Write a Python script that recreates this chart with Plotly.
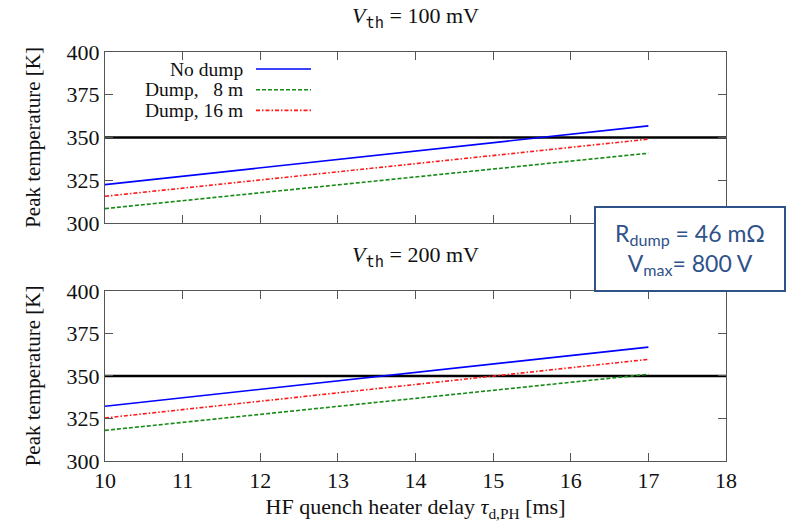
import plotly.graph_objects as go
from plotly.subplots import make_subplots

# ---- data ----
delay_ms = [10, 17]
names = ["No dump", "Dump,   8 m", "Dump, 16 m"]
peak_100mV = {
    "No dump": [322.4, 356.8],
    "Dump,   8 m": [308.4, 340.8],
    "Dump, 16 m": [315.6, 349.0],
}
peak_200mV = {
    "No dump": [332.2, 367.0],
    "Dump,   8 m": [318.0, 351.0],
    "Dump, 16 m": [325.3, 359.8],
}
limit_K = 350
x_range = [10, 18]
y_range = [300, 400]
x_ticks = [10, 11, 12, 13, 14, 15, 16, 17, 18]
y_ticks = [300, 325, 350, 375, 400]

colors = {"No dump": "#0000ff", "Dump,   8 m": "#168a16", "Dump, 16 m": "#ff1a1a"}
dashes = {"No dump": "solid", "Dump,   8 m": "4px,2px", "Dump, 16 m": "4px,2px,1.5px,2px"}

SERIF = "Liberation Serif, Times New Roman, serif"
MONO = "DejaVu Sans Mono, monospace"
FS = 22

fig = make_subplots(rows=2, cols=1, vertical_spacing=0.166)

for row, data in [(1, peak_100mV), (2, peak_200mV)]:
    fig.add_trace(go.Scatter(x=x_range, y=[limit_K, limit_K], mode="lines",
                             line=dict(color="black", width=2.6), showlegend=False,
                             hoverinfo="skip"), row=row, col=1)
    for n in names:
        fig.add_trace(go.Scatter(x=delay_ms, y=data[n], mode="lines", name=n,
                                 line=dict(color=colors[n], dash=dashes[n], width=1.6),
                                 showlegend=False), row=row, col=1)

axis_common = dict(showline=True, linecolor="#555555", linewidth=1, mirror="allticks",
                   ticks="inside", ticklen=8, tickcolor="#555555", showgrid=False,
                   zeroline=False, automargin=False,
                   tickfont=dict(family=SERIF, size=FS, color="#111"))
for row in (1, 2):
    fig.update_xaxes(range=x_range, tickvals=x_ticks, showticklabels=(row == 2),
                     row=row, col=1, **axis_common)
    fig.update_yaxes(range=y_range, tickvals=y_ticks, row=row, col=1,
                     title=dict(text="Peak temperature [K]", standoff=20,
                                font=dict(family=SERIF, size=21, color="#111")),
                     **axis_common)

fig.update_xaxes(title=dict(text="HF quench heater delay <i>τ</i><sub>d,PH</sub> [ms]",
                            standoff=10, font=dict(family=SERIF, size=22, color="#111")),
                 row=2, col=1)

fig.update_layout(
    width=788, height=522, margin=dict(l=105, r=62, t=52, b=61),
    plot_bgcolor="white", paper_bgcolor="white", showlegend=False,
)
fig.layout.yaxis.domain = [0.582, 1.0]
fig.layout.yaxis2.domain = [0.0, 0.4157]

# subplot titles
for ytop, label in [(1.0, "100 mV"), (0.4157, "200 mV")]:
    fig.add_annotation(
        xref="paper", yref="paper", x=0.5, y=ytop, yshift=18, yanchor="bottom",
        showarrow=False,
        text=f"<i>V</i><sub><span style=\"font-family:{MONO}\">th</span></sub> = {label}",
        font=dict(family=SERIF, size=22, color="#111"))

# custom legend (text right-aligned, sample to the right)
W, H = 621.0, 409.0
def px_x(p): return (p - 105) / W
def px_y(p): return (461 - p) / H
for i, n in enumerate(names):
    yy = px_y(69 + 20.7 * i)
    fig.add_annotation(xref="paper", yref="paper", x=px_x(244), y=yy, xanchor="right",
                       yanchor="middle", showarrow=False, text=n, borderpad=0,
                       font=dict(family=SERIF, size=19.5, color="#111"))
    fig.add_shape(type="line", xref="paper", yref="paper", x0=px_x(256), x1=px_x(311),
                  y0=yy, y1=yy, line=dict(color=colors[n], dash=dashes[n], width=1.6))

# info box
fig.add_annotation(
    xref="paper", yref="paper", x=px_x(690), y=px_y(248.5), xanchor="center", yanchor="middle",
    showarrow=False, align="center",
    text="R<sub>dump</sub> = 46 mΩ<br>V<sub>max</sub>= 800 V",
    font=dict(family="Lato, Open Sans, sans-serif", size=23, color="#2f5289"),
    bordercolor="#2f5289", borderwidth=2, borderpad=5, bgcolor="white",
    width=178, height=72)

fig.write_html("out.html")
